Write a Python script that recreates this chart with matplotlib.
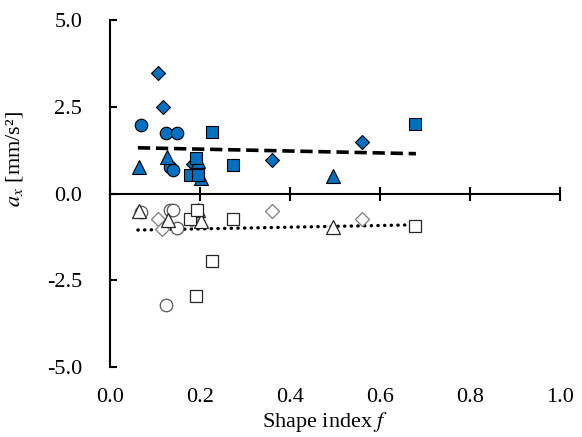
import numpy as np
import matplotlib
matplotlib.use('Agg')
import matplotlib.pyplot as plt

plt.rcParams['font.family'] = ['Liberation Serif', 'DejaVu Serif']
plt.rcParams['mathtext.fontset'] = 'stix'

# filled symbols (positive a_x)
circ_f_x = [0.068, 0.124, 0.150, 0.133, 0.141]
circ_f_y = [1.99, 1.75, 1.75, 0.77, 0.69]
diam_f_x = [0.107, 0.117, 0.184, 0.361, 0.561]
diam_f_y = [3.48, 2.50, 0.86, 0.98, 1.49]
tri_f_x = [0.065, 0.127, 0.196, 0.202, 0.495]
tri_f_y = [0.77, 1.06, 0.95, 0.45, 0.50]
sq_f_x = [0.226, 0.191, 0.178, 0.195, 0.274, 0.678]
sq_f_y = [1.78, 1.03, 0.55, 0.55, 0.81, 2.02]

# hollow symbols (negative a_x)
circ_h_x = [0.068, 0.124, 0.150, 0.133, 0.141]
circ_h_y = [-0.52, -3.20, -0.99, -0.48, -0.48]
diam_h_x = [0.107, 0.115, 0.181, 0.361, 0.561]
diam_h_y = [-0.73, -1.02, -0.75, -0.49, -0.72]
tri_h_x = [0.064, 0.128, 0.196, 0.202, 0.495]
tri_h_y = [-0.51, -0.75, -0.48, -0.80, -0.97]
sq_h_x = [0.226, 0.191, 0.178, 0.193, 0.274, 0.678]
sq_h_y = [-1.95, -2.94, -0.73, -0.48, -0.73, -0.94]

# trend lines (endpoints)
trend_x = [0.062, 0.68]
trend_pos = [1.32, 1.15]
trend_neg = [-1.05, -0.90]

blue = '#0070C0'

fig = plt.figure(figsize=(5.82, 4.37), dpi=100)
ax = fig.add_axes([0.189, 0.160, 0.773, 0.794])

kw_f = dict(linestyle='none', markerfacecolor=blue, markeredgecolor='black',
            markeredgewidth=0.8, zorder=3)
ax.plot(circ_f_x, circ_f_y, marker='o', markersize=9, **kw_f)
ax.plot(diam_f_x, diam_f_y, marker='D', markersize=7.5, **kw_f)
ax.plot(tri_f_x, tri_f_y, marker='^', markersize=9.5, **kw_f)
ax.plot(sq_f_x, sq_f_y, marker='s', markersize=8.5, **kw_f)

kw_h = dict(linestyle='none', markerfacecolor='white', markeredgewidth=0.9, zorder=3)
ax.plot(circ_h_x, circ_h_y, marker='o', markersize=9, markeredgecolor='#595959', **kw_h)
ax.plot(diam_h_x, diam_h_y, marker='D', markersize=7.5, markeredgecolor='#7f7f7f', **kw_h)
ax.plot(tri_h_x, tri_h_y, marker='^', markersize=9.5, markeredgecolor='#262626', **kw_h)
ax.plot(sq_h_x, sq_h_y, marker='s', markersize=8.5, markeredgecolor='#262626', **kw_h)

ax.plot(trend_x, trend_pos, color='black', linewidth=2.6, dashes=(3.4, 1.6), zorder=2)
ax.plot(trend_x, trend_neg, color='black', linewidth=2.4, linestyle=(0, (0.1, 1.9)),
        dash_capstyle='round', zorder=2)

ax.set_xlim(0, 1.0)
ax.set_ylim(-5, 5)
ax.set_xticks(np.arange(0, 1.01, 0.2))
ax.set_xticklabels(['0.0', '0.2', '0.4', '0.6', '0.8', '1.0'])
ax.set_yticks([-5, -2.5, 0, 2.5, 5])
ax.set_yticklabels(['-5.0', '-2.5', '0.0', '2.5', '5.0'])

for s in ['top', 'right', 'bottom']:
    ax.spines[s].set_visible(False)
ax.spines['left'].set_linewidth(1.5)

ax.tick_params(axis='y', direction='in', length=5, width=1.5, labelsize=16, pad=20)
ax.tick_params(axis='x', length=0, labelsize=16, pad=15)

# horizontal axis crossing at y = 0
sec = ax.secondary_xaxis(0.5)
sec.set_xticks(np.arange(0, 1.01, 0.2))
sec.tick_params(axis='x', direction='inout', length=10, width=1.5,
                labeltop=False, labelbottom=False)
for s in sec.spines.values():
    s.set_linewidth(1.5)

ax.set_xlabel('Shape index $f$', fontsize=16)
ax.xaxis.set_label_coords(0.478, -0.125)
ax.set_ylabel('$a_x$ [mm/s²]', fontsize=16)
ax.yaxis.set_label_coords(-0.19, 0.60)

fig.savefig('out.png', dpi=100)
